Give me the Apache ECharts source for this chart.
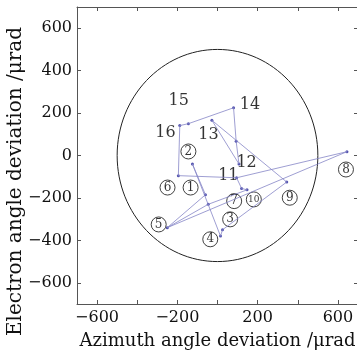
<!DOCTYPE html>
<html>
<head>
<meta charset="utf-8">
<script src="https://cdn.jsdelivr.net/npm/echarts@6/dist/echarts.min.js"></script>
<style>
  html, body { margin: 0; padding: 0; background: #fff; }
  #chart { width: 357px; height: 357px; }
</style>
</head>
<body>
<div id="chart"></div>
<script>
// measured points 1..16 (urad), 17 and 18 are unlabelled markers on the trace
const ptX = [-60, -125, 25, 15, -250, -195, 120, 645, 345, 147, 95, 107, -28, 80, -145, -188, 93, -46]
const ptY = [-185, -40, -350, -380, -340, -95, -155, 18, -125, -162, -105, -40, 166, 225, 150, 141, 67, -230]
// order the trace was drawn in (point numbers)
const pathOrder = [5, 1, 2, 4, 3, 9, 13, 12, 17, 14, 15, 16, 6, 11, 8, 5, 18, 10, 7, 11]
// where each number label sits
const labelX = [-134, -145, 63, -36, -293, -249, 83, 640, 360, 181, 54, 145, -45, 162, -193, -259]
const labelY = [-151, 19, -301, -395, -325, -151, -215, -66, -199, -207, -97, -34, 99, 240, 256, 107]
const circleR = 500
const xTicks = [-600, -400, -200, 0, 200, 400, 600]
const xLabels = [-600, -200, 200, 600]
const yTicks = [-600, -400, -200, 0, 200, 400, 600]

const serif = 'DejaVu Serif'
const fmt = function(v) { return v < 0 ? '\u2212' + (-v) : String(v) }

const pathData = pathOrder.map(function(n) { return [ptX[n - 1], ptY[n - 1]] })
const pointData = ptX.map(function(x, i) { return [x, ptY[i]] })
const labelData = labelX.map(function(x, i) { return [x, labelY[i], i + 1] })

const axisLine = { onZero: false, lineStyle: { color: '#555', width: 1 } }

const chart = echarts.init(document.getElementById('chart'))
chart.setOption({
  animation: false,
  grid: { left: 77, top: 7, width: 281, height: 297, containLabel: false, outerBoundsMode: 'none' },
  xAxis: [
    {
      type: 'value', min: -700, max: 700,
      name: 'Azimuth angle deviation /\u03bcrad',
      nameLocation: 'middle', nameGap: 28,
      nameTextStyle: { fontFamily: serif, fontSize: 18, color: '#111' },
      axisLine: axisLine,
      axisTick: { inside: true, length: 4, customValues: xTicks, lineStyle: { color: '#555' } },
      axisLabel: { customValues: xLabels, formatter: fmt, fontFamily: serif, fontSize: 16, color: '#111', margin: 6 },
      splitLine: { show: false }
    },
    {
      type: 'value', min: -700, max: 700, position: 'top',
      axisLine: axisLine,
      axisTick: { inside: true, length: 4, customValues: xTicks, lineStyle: { color: '#555' } },
      axisLabel: { show: false },
      splitLine: { show: false }
    }
  ],
  yAxis: [
    {
      type: 'value', min: -700, max: 700,
      name: 'Electron angle deviation /\u03bcrad',
      nameLocation: 'middle', nameGap: 51, nameMoveOverlap: false,
      nameTextStyle: { fontFamily: serif, fontSize: 20, color: '#111', padding: [0, 52, 0, 0] },
      axisLine: axisLine,
      axisTick: { inside: true, length: 4, customValues: yTicks, lineStyle: { color: '#555' } },
      axisLabel: { customValues: yTicks, formatter: fmt, fontFamily: serif, fontSize: 16, color: '#111', margin: 5 },
      splitLine: { show: false }
    },
    {
      type: 'value', min: -700, max: 700, position: 'right',
      axisLine: axisLine,
      axisTick: { inside: true, length: 4, customValues: yTicks },
      axisLabel: { show: false },
      splitLine: { show: false }
    }
  ],
  series: [
    {
      // reference circle, radius 500
      type: 'custom',
      silent: true,
      data: [[0, 0, circleR]],
      renderItem: function(params, api) {
        const c = api.coord([api.value(0), api.value(1)])
        const s = api.size([api.value(2), api.value(2)])
        return {
          type: 'ellipse',
          shape: { cx: c[0], cy: c[1], rx: s[0], ry: s[1] },
          style: { fill: null, stroke: '#222', lineWidth: 1 }
        }
      }
    },
    {
      type: 'line',
      data: pathData,
      symbol: 'none',
      lineStyle: { color: '#8585c6', width: 0.8 }
    },
    {
      type: 'scatter',
      data: pointData,
      symbol: 'circle',
      symbolSize: 3,
      itemStyle: { color: '#2a2a9c' }
    },
    {
      type: 'scatter',
      data: labelData,
      symbolSize: 0,
      label: {
        show: true,
        position: 'inside',
        formatter: function(p) {
          const n = p.value[2]
          if (n <= 9) return '{c|' + n + '}'
          if (n === 10) return '{t|' + n + '}'
          return '{p|' + n + '}'
        },
        rich: {
          c: { fontFamily: serif, fontSize: 12, color: '#000', width: 15, height: 15, lineHeight: 15, align: 'center',
            borderColor: '#111', borderWidth: 1, borderRadius: 8 },
          t: { fontFamily: serif, fontSize: 9, color: '#000', width: 15, height: 15, lineHeight: 15, align: 'center',
            borderColor: '#111', borderWidth: 1, borderRadius: 8 },
          p: { fontFamily: serif, fontSize: 16, color: '#000' }
        }
      }
    }
  ]
})
</script>
</body>
</html>
